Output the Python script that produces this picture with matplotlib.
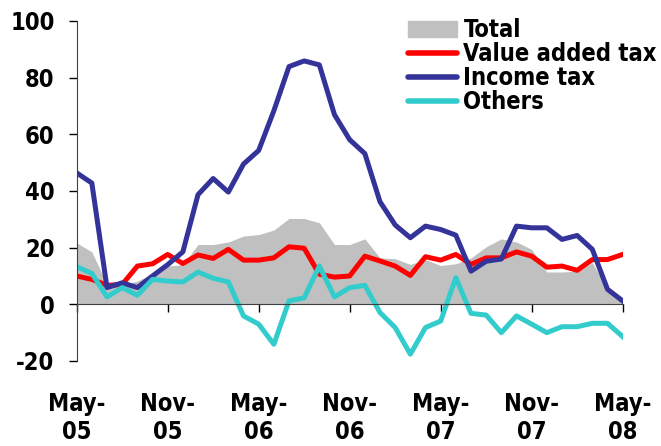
import matplotlib
matplotlib.use("Agg")
import matplotlib.pyplot as plt
from matplotlib.patches import Patch
from matplotlib.lines import Line2D
import numpy as np

plt.rcParams['font.family'] = ['DejaVu Sans']
plt.rcParams['font.stretch'] = 'condensed'
plt.rcParams['font.weight'] = 'bold'
plt.rcParams['axes.unicode_minus'] = False

# monthly, May-05 .. May-08
months = np.arange(37)
tick_labels = ['May-\n05', 'Nov-\n05', 'May-\n06', 'Nov-\n06', 'May-\n07', 'Nov-\n07', 'May-\n08']

total = [21.7, 18.5, 7.0, 7.0, 8.2, 10.9, 13.5, 14.0, 21.1, 21.1, 22.0, 24.1, 24.6,
         26.2, 30.3, 30.3, 28.8, 21.1, 21.1, 23.1, 16.4, 16.1, 14.1, 15.8, 13.7,
         14.3, 16.4, 20.3, 23.1, 22.0, 19.4, 11.4, 11.4, 11.7, 14.7, 5.3, 0.6]
vat = [10.0, 8.8, 6.7, 7.0, 13.5, 14.3, 17.6, 14.4, 17.4, 16.2, 19.4, 15.6, 15.6,
       16.4, 20.3, 19.8, 10.6, 9.6, 10.0, 17.0, 15.3, 13.5, 10.2, 16.8, 15.6,
       17.6, 14.1, 16.4, 16.4, 18.5, 17.0, 13.1, 13.5, 12.0, 15.8, 15.8, 17.6]
income = [46.4, 42.8, 5.9, 7.6, 5.9, 10.0, 14.0, 18.5, 38.7, 44.4, 39.6, 49.5, 54.3,
          68.3, 83.9, 85.9, 84.5, 66.9, 58.1, 53.2, 36.2, 28.0, 23.5, 27.6, 26.4,
          24.4, 11.7, 15.2, 16.0, 27.6, 27.0, 27.0, 22.9, 24.3, 19.4, 5.3, 1.2]
others = [13.3, 10.9, 2.6, 5.9, 3.2, 8.8, 8.2, 7.9, 11.4, 9.2, 7.9, -4.1, -7.0,
          -14.1, 1.2, 2.3, 13.5, 2.6, 5.9, 6.7, -2.9, -8.2, -17.6, -8.2, -5.9,
          9.4, -3.2, -3.8, -10.0, -4.1, -7.0, -10.0, -7.9, -7.9, -6.7, -6.7, -11.4]

c_total = '#C0C0C0'
c_vat = '#FF0000'
c_inc = '#333399'
c_oth = '#33CCCC'

fig = plt.figure(figsize=(6.61, 4.46), dpi=100)
ax = fig.add_axes([0.116, 0.1906, 0.826, 0.7624])

ax.fill_between(months, 0, total, color=c_total, lw=0)
ax.plot(months, vat, color=c_vat, lw=3.6)
ax.plot(months, income, color=c_inc, lw=3.6)
ax.plot(months, others, color=c_oth, lw=3.6)

ax.set_xlim(0, 36)
ax.set_ylim(-20, 100)
ax.set_yticks([-20, 0, 20, 40, 60, 80, 100])
ax.set_xticks(months[::6])
ax.set_xticklabels(tick_labels)

for s in ['top', 'right']:
    ax.spines[s].set_visible(False)
ax.spines['bottom'].set_position(('data', 0))
ax.spines['left'].set_color('#404040')
ax.spines['bottom'].set_color('#404040')
ax.tick_params(axis='y', direction='out', length=6, labelsize=17, width=1, pad=10)
ax.tick_params(axis='x', direction='out', length=6, labelsize=17, width=1, pad=57)
for lab in ax.get_xticklabels() + ax.get_yticklabels():
    lab.set_fontweight('bold')
    lab.set_fontstretch('condensed')

handles = [Patch(color=c_total), Line2D([], [], color=c_vat, lw=4, solid_capstyle='round'),
           Line2D([], [], color=c_inc, lw=4, solid_capstyle='round'),
           Line2D([], [], color=c_oth, lw=4, solid_capstyle='round')]
leg = ax.legend(handles, ['Total', 'Value added tax', 'Income tax', 'Others'],
                loc='upper right', bbox_to_anchor=(1.08, 1.036), frameon=False,
                prop={'size': 17, 'weight': 'bold', 'stretch': 'condensed'},
                handlelength=2.1, handletextpad=0.25, labelspacing=0.0,
                borderaxespad=0)

fig.savefig('out.png', dpi=100)
